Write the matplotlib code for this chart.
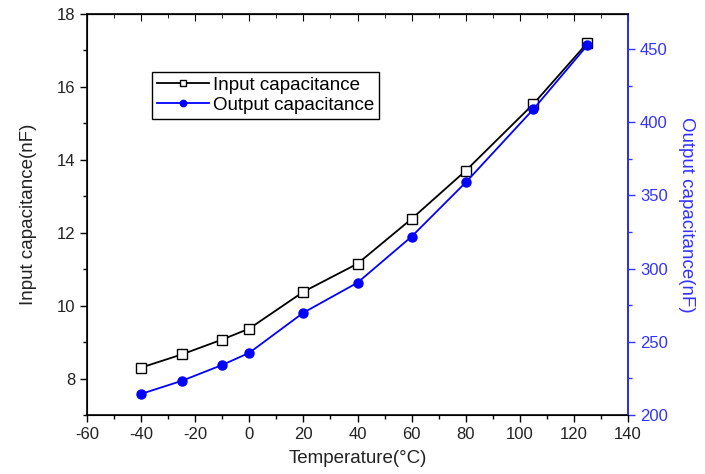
import matplotlib
matplotlib.use("Agg")
import matplotlib.pyplot as plt
from matplotlib.ticker import MultipleLocator

temperature = [-40, -25, -10, 0, 20, 40, 60, 80, 105, 125]
input_cap = [8.30, 8.66, 9.07, 9.37, 10.38, 11.15, 12.38, 13.70, 15.53, 17.21]
output_cap = [214.4, 223.3, 234.2, 242.5, 269.9, 290.4, 321.9, 358.9, 408.9, 452.7]

BLUE = "#0000ff"
AXBLUE = "#3333ff"
TEXT = "#222222"

plt.rcParams["font.family"] = ["Liberation Sans", "DejaVu Sans"]
plt.rcParams["axes.unicode_minus"] = False


def main():
    fig = plt.figure(figsize=(7.05, 4.74), dpi=100)
    ax = fig.add_axes([0.1234, 0.1245, 0.7674, 0.846])

    l1, = ax.plot(temperature, input_cap, color="black", lw=1.3,
                  marker="s", ms=6.5, mfc="white", mec="black", mew=1.0,
                  label="Input capacitance", zorder=3)
    ax.set_xlim(-60, 140)
    ax.set_ylim(7, 18)
    ax.xaxis.set_major_locator(MultipleLocator(20))
    ax.xaxis.set_minor_locator(MultipleLocator(10))
    ax.yaxis.set_major_locator(MultipleLocator(2))
    ax.yaxis.set_minor_locator(MultipleLocator(1))
    ax.tick_params(which="major", direction="out", length=5, width=1,
                   labelsize=12, labelcolor=TEXT)
    ax.tick_params(which="minor", direction="out", length=3, width=1)
    ax.set_xlabel("Temperature(°C)", fontsize=13.5, color=TEXT, labelpad=6)
    ax.set_ylabel("Input capacitance(nF)", fontsize=13.5, color=TEXT,
                  labelpad=14)
    for s in ax.spines.values():
        s.set_linewidth(1.2)

    top = ax.secondary_xaxis("top")
    top.xaxis.set_major_locator(MultipleLocator(20))
    top.xaxis.set_minor_locator(MultipleLocator(10))
    top.tick_params(which="major", direction="in", length=5, labeltop=False)
    top.tick_params(which="minor", direction="in", length=3)

    ax2 = ax.twinx()
    l2, = ax2.plot(temperature, output_cap, color=BLUE, lw=1.3,
                   marker="o", ms=6.5, mfc=BLUE, mec=BLUE,
                   label="Output capacitance", zorder=3)
    ax2.set_ylim(200, 474)
    ax2.yaxis.set_major_locator(MultipleLocator(50))
    ax2.yaxis.set_minor_locator(MultipleLocator(25))
    ax2.tick_params(which="major", direction="out", length=5, width=1,
                    colors=AXBLUE, labelsize=12)
    ax2.tick_params(which="minor", direction="out", length=3, width=1,
                    colors=AXBLUE)
    ax2.spines["right"].set_color(AXBLUE)
    ax2.spines["right"].set_linewidth(1.2)
    ax2.set_ylabel("Output capacitance(nF)", fontsize=13.5, color=AXBLUE,
                   rotation=270, labelpad=20)

    leg = ax.legend(handles=[l1, l2], loc="upper left",
                    bbox_to_anchor=(0.12, 0.855), fontsize=13.5,
                    frameon=True, fancybox=False, framealpha=1,
                    handlelength=2.8, handletextpad=0.2, markerscale=0.7,
                    borderpad=0.25, labelspacing=0.15, borderaxespad=0)
    leg.get_frame().set_edgecolor("black")
    leg.get_frame().set_linewidth(1.0)

    fig.savefig("out.png", dpi=100)


if __name__ == "__main__":
    main()
